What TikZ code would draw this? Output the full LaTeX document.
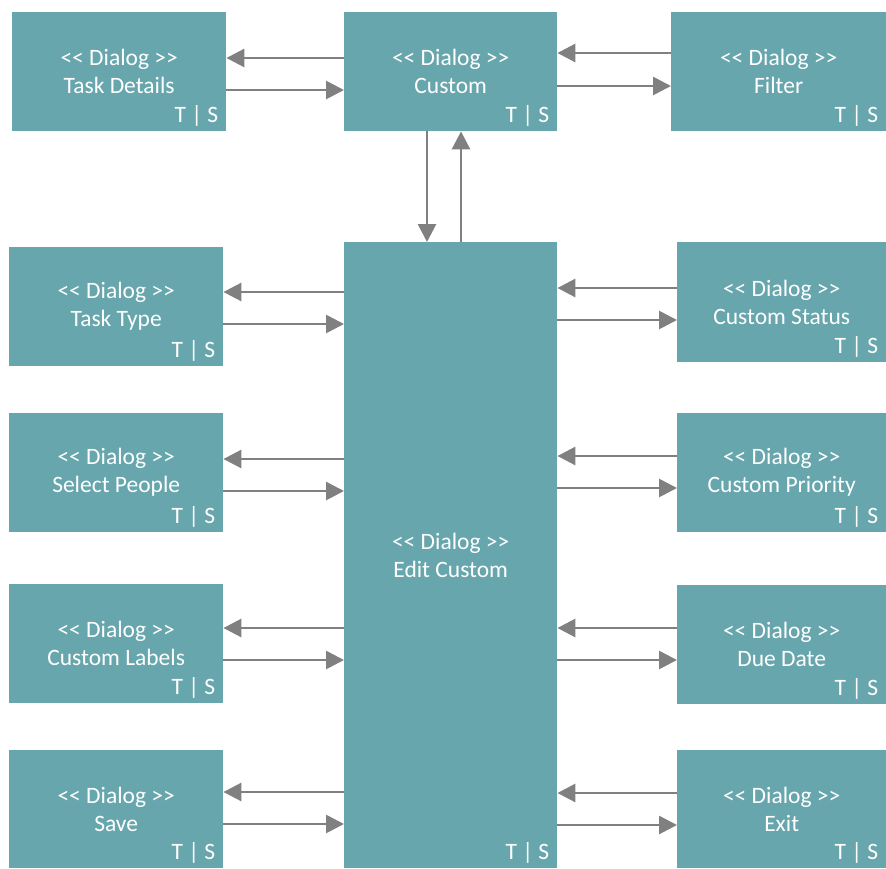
\documentclass[tikz,border=0pt]{standalone}
\usepackage{fontspec}
\setmainfont{Carlito}[Ligatures=TeXOff]
\usetikzlibrary{arrows.meta}
\definecolor{boxfill}{HTML}{67A6AD}
\definecolor{arrgray}{HTML}{808080}
\begin{document}
\begin{tikzpicture}[x=1pt,y=-1pt,
  dlg/.style={rectangle, fill=boxfill, draw=none, inner sep=0pt, anchor=north west},
  lbl/.style={text=white, font=\fontsize{23.5}{28}\selectfont, align=center},
  tsl/.style={text=white, font=\fontsize{23.5}{28}\selectfont, anchor=base east, inner sep=0pt},
  conn/.style={draw=arrgray, line width=2.8pt, -{Triangle[length=18pt,width=18pt]}}]
\useasboundingbox (0,0) rectangle (886,868);
% boxes: name, x0, y0, x1, y1
\newcommand{\dbox}[6]{%
  \node[dlg, minimum width={(#4-#2)*1pt}, minimum height={(#5-#3)*1pt}] (#1) at (#2,#3) {};
  \node[lbl] (#1-t) at (#1.center) {<< Dialog >>\\#6};
  \node[tsl] (#1-ts) at ([xshift=-8pt,yshift=9pt]#1.south east) {T | S};
}
\dbox{td}{12}{12}{226}{131}{Task Details}
\dbox{cu}{344}{12}{557}{131}{Custom}
\dbox{fi}{671}{12}{886}{131}{Filter}
\dbox{ec}{344}{242}{557}{868}{Edit Custom}
\dbox{tt}{9}{247}{223}{366}{Task Type}
\dbox{sp}{9}{413}{223}{532}{Select People}
\dbox{cl}{9}{584}{223}{703}{Custom Labels}
\dbox{sv}{9}{750}{223}{868}{Save}
\dbox{cs}{677}{242}{886}{362}{Custom Status}
\dbox{cp}{677}{413}{886}{532}{Custom Priority}
\dbox{dd}{677}{585}{886}{704}{Due Date}
\dbox{ex}{677}{750}{886}{868}{Exit}
% top row
\draw[conn] (cu.west |- 0,58) -- (td.east |- 0,58);
\draw[conn] (td.east |- 0,90) -- (cu.west |- 0,90);
\draw[conn] (fi.west |- 0,53) -- (cu.east |- 0,53);
\draw[conn] (cu.east |- 0,86) -- (fi.west |- 0,86);
% vertical
\draw[conn] (cu.south -| 427,0) -- (ec.north -| 427,0);
\draw[conn] (ec.north -| 461,0) -- (cu.south -| 461,0);
% left column
\draw[conn] (ec.west |- 0,292) -- (tt.east |- 0,292);
\draw[conn] (tt.east |- 0,324) -- (ec.west |- 0,324);
\draw[conn] (ec.west |- 0,459) -- (sp.east |- 0,459);
\draw[conn] (sp.east |- 0,491) -- (ec.west |- 0,491);
\draw[conn] (ec.west |- 0,628) -- (cl.east |- 0,628);
\draw[conn] (cl.east |- 0,660) -- (ec.west |- 0,660);
\draw[conn] (ec.west |- 0,792) -- (sv.east |- 0,792);
\draw[conn] (sv.east |- 0,824) -- (ec.west |- 0,824);
% right column
\draw[conn] (cs.west |- 0,288) -- (ec.east |- 0,288);
\draw[conn] (ec.east |- 0,320) -- (cs.west |- 0,320);
\draw[conn] (cp.west |- 0,456) -- (ec.east |- 0,456);
\draw[conn] (ec.east |- 0,488) -- (cp.west |- 0,488);
\draw[conn] (dd.west |- 0,628) -- (ec.east |- 0,628);
\draw[conn] (ec.east |- 0,660) -- (dd.west |- 0,660);
\draw[conn] (ex.west |- 0,793) -- (ec.east |- 0,793);
\draw[conn] (ec.east |- 0,825) -- (ex.west |- 0,825);
\end{tikzpicture}
\end{document}
